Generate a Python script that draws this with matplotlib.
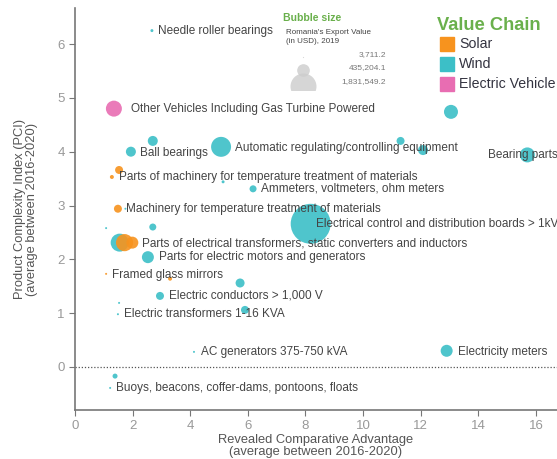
import matplotlib.pyplot as plt
import numpy as np

plt.rcParams['font.family'] = ['Liberation Sans', 'DejaVu Sans']

# ---------------------data--------------------------
# bubbles: RCA, PCI, export value (USD), value chain
rca = [2.67, 1.35, 13.05, 2.70, 1.94, 5.07, 11.30, 12.08, 15.70,
       1.53, 1.28, 5.14, 6.18, 1.49, 1.75, 1.08, 2.70, 8.18,
       1.55, 1.72, 1.99, 2.53, 1.08, 3.30, 5.73, 2.95, 1.53,
       1.49, 5.90, 4.13, 12.90, 1.39, 1.22]
pci = [6.25, 4.80, 4.74, 4.20, 4.00, 4.09, 4.20, 4.03, 3.94,
       3.66, 3.53, 3.44, 3.31, 2.94, 2.94, 2.58, 2.60, 2.66,
       2.31, 2.31, 2.31, 2.04, 1.73, 1.64, 1.56, 1.32, 1.19,
       0.98, 1.06, 0.28, 0.30, -0.17, -0.39]
export_value = [24000, 694000, 531000, 271000, 271000, 1080000, 173000, 271000, 610000,
                173000, 43000, 24000, 133000, 173000, 11000, 11000, 133000, 4330000,
                878000, 800000, 390000, 390000, 11000, 43000, 220000, 173000, 11000,
                11000, 173000, 11000, 390000, 68000, 11000]
chain = ['Wind', 'Electric Vehicle', 'Wind', 'Wind', 'Wind', 'Wind', 'Wind', 'Wind', 'Wind',
         'Solar', 'Solar', 'Wind', 'Wind', 'Solar', 'Wind', 'Wind', 'Wind', 'Wind',
         'Wind', 'Solar', 'Solar', 'Wind', 'Solar', 'Solar', 'Wind', 'Wind', 'Wind',
         'Wind', 'Wind', 'Wind', 'Wind', 'Wind', 'Wind']

# labels: text, x, y (data coords of left edge)
label_text = ['Needle roller bearings',
              'Other Vehicles Including Gas Turbine Powered',
              'Ball bearings',
              'Automatic regulating/controlling equipment',
              'Bearing parts',
              'Parts of machinery for temperature treatment of materials',
              'Ammeters, voltmeters, ohm meters',
              'Machinery for temperature treatment of materials',
              'Electrical control and distribution boards > 1kV',
              'Parts of electrical transformers, static converters and inductors',
              'Parts for electric motors and generators',
              'Framed glass mirrors',
              'Electric conductors > 1,000 V',
              'Electric transformers 1-16 KVA',
              'AC generators 375-750 kVA',
              'Electricity meters',
              'Buoys, beacons, coffer-dams, pontoons, floats']
label_x = [2.88, 1.94, 2.26, 5.56, 14.34, 1.53, 6.46, 1.77, 8.37,
           2.33, 2.92, 1.28, 3.26, 1.70, 4.38, 13.30, 1.42]
label_y = [6.25, 4.80, 3.98, 4.07, 3.94, 3.53, 3.31, 2.94, 2.66,
           2.30, 2.04, 1.71, 1.32, 0.98, 0.28, 0.28, -0.39]

legend_values = [3711.2, 435204.1, 1831549.2]
legend_labels = ['3,711.2', '435,204.1', '1,831,549.2']
chains = ['Solar', 'Wind', 'Electric Vehicle']
colors = {'Solar': '#f7931e', 'Wind': '#3cbfc7', 'Electric Vehicle': '#e86db2'}

# ------------------plot----------------------
def size_of(v):
    return 350.0 * np.asarray(v) / 1831549.2

fig = plt.figure(figsize=(5.57, 4.59), dpi=100)
ax = fig.add_axes([75/557, 1-410/459, 482/557, 402/459])

ax.scatter(rca, pci, s=size_of(export_value), c=[colors[c] for c in chain],
           alpha=0.9, linewidths=0, zorder=3)

for t, x, y in zip(label_text, label_x, label_y):
    ax.text(x, y, t, fontsize=8.5, color='#444444', va='center', ha='left', zorder=4)

ax.axhline(0, color='#555555', lw=0.9, ls=(0, (1, 1.5)), zorder=1)

ax.set_xlim(0, 16.73)
ax.set_ylim(-0.8, 6.67)
ax.set_xticks(range(0, 17, 2))
ax.set_yticks(range(0, 7))
for s in ['top', 'right']:
    ax.spines[s].set_visible(False)
for s in ['left', 'bottom']:
    ax.spines[s].set_color('#777777')
    ax.spines[s].set_linewidth(1.2)
ax.tick_params(colors='#777777', labelcolor='#999999', labelsize=9.5, length=4)
ax.set_xlabel('Revealed Comparative Advantage\n(average between 2016-2020)',
              fontsize=9.3, color='#555555', linespacing=1.0, labelpad=1)
ax.set_ylabel('Product Complexity Index (PCI)\n(average between 2016-2020)',
              fontsize=9.3, color='#555555', linespacing=1.0, labelpad=14)

# bubble size legend
fig.text(283/557, 1-18/459, 'Bubble size', fontsize=7.6, color='#6ab04c',
         fontweight='bold', va='center')
fig.text(286/557, 1-37/459, "Romania's Export Value\n(in USD), 2019", fontsize=5.8,
         color='#444444', va='center', linespacing=1.3)
leg_y = [55, 68, 82]
for v, lab, py in zip(legend_values, legend_labels, leg_y):
    fig.text(386/557, 1-py/459, lab, fontsize=6, color='#777777', va='center', ha='right')
clip = plt.Rectangle((280/557, 1-90/459), 50/557, 45/459, transform=fig.transFigure,
                     visible=False)
fig.patches.append(clip)
bub_y = [57, 70, 86]
for v, py in zip(legend_values, bub_y):
    sc = ax.scatter([303/557], [1-py/459], s=size_of(v), color='#cccccc', alpha=0.8,
                    linewidths=0, transform=fig.transFigure, clip_on=True, zorder=2)
    sc.set_clip_path(clip)

# value chain legend
fig.text(437/557, 1-25/459, 'Value Chain', fontsize=13.2, color='#6ab04c',
         fontweight='bold', va='center')
for c, py in zip(chains, [44, 64, 84]):
    fig.patches.append(plt.Rectangle((440/557, 1-(py+7)/459), 14/557, 14/459,
                                     color=colors[c], transform=fig.transFigure))
    fig.text(459/557, 1-py/459, c, fontsize=10.2, color='#333340', va='center')

fig.savefig('out.png', dpi=100)
